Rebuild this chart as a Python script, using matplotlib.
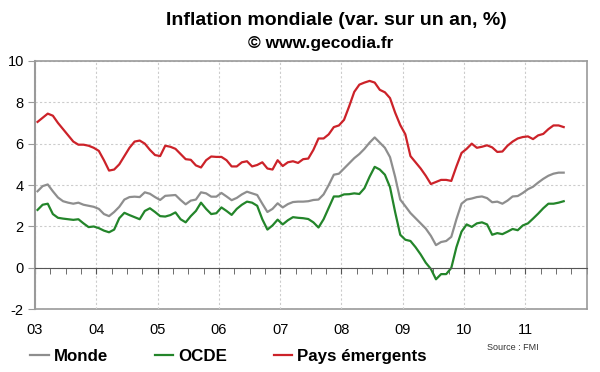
import numpy as np
import matplotlib
matplotlib.use('Agg')
import matplotlib.pyplot as plt
from matplotlib.ticker import MultipleLocator

plt.rcParams['font.family'] = ['Liberation Sans', 'DejaVu Sans']

# monthly values, Jan 2003 -> Aug 2011
monde = [3.7, 3.95, 4.03, 3.7, 3.4, 3.22, 3.15, 3.1, 3.15, 3.05, 3.0, 2.95,
         2.85, 2.6, 2.5, 2.7, 2.95, 3.3, 3.42, 3.44, 3.42, 3.65, 3.58, 3.42,
         3.28, 3.48, 3.5, 3.52, 3.28, 3.07, 3.25, 3.3, 3.65, 3.6, 3.44, 3.44,
         3.62, 3.45, 3.27, 3.38, 3.55, 3.68, 3.6, 3.52, 3.1, 2.7, 2.85, 3.12,
         2.92, 3.08, 3.18, 3.2, 3.2, 3.22, 3.28, 3.3, 3.55, 4.0, 4.5, 4.55,
         4.8, 5.05, 5.3, 5.5, 5.75, 6.05, 6.3, 6.05, 5.8, 5.35, 4.4, 3.3,
         2.98, 2.65, 2.4, 2.15, 1.9, 1.55, 1.1, 1.25, 1.3, 1.5, 2.35, 3.1,
         3.3, 3.35, 3.42, 3.45, 3.37, 3.17, 3.2, 3.1, 3.25, 3.45, 3.47, 3.62,
         3.8, 3.92, 4.12, 4.3, 4.45, 4.55, 4.6, 4.6]
ocde = [2.8, 3.05, 3.1, 2.6, 2.42, 2.38, 2.35, 2.32, 2.35, 2.15, 1.97, 2.0,
        1.92, 1.8, 1.72, 1.85, 2.4, 2.66, 2.55, 2.45, 2.35, 2.75, 2.88, 2.7,
        2.5, 2.48, 2.55, 2.68, 2.35, 2.2, 2.5, 2.75, 3.15, 2.85, 2.6, 2.64,
        2.92, 2.75, 2.56, 2.85, 3.05, 3.2, 3.15, 3.0, 2.35, 1.85, 2.05, 2.33,
        2.1, 2.3, 2.45, 2.42, 2.4, 2.36, 2.2, 1.95, 2.35, 2.9, 3.45, 3.45,
        3.55, 3.56, 3.6, 3.57, 3.85, 4.4, 4.88, 4.75, 4.5, 3.9, 2.7, 1.6,
        1.36, 1.3, 1.0, 0.65, 0.25, -0.05, -0.55, -0.3, -0.3, 0.0, 1.0, 1.75,
        2.1, 1.98, 2.15, 2.2, 2.1, 1.6, 1.68, 1.63, 1.75, 1.88, 1.82, 2.05,
        2.15, 2.38, 2.62, 2.88, 3.1, 3.1, 3.15, 3.22]
emergents = [7.05, 7.25, 7.45, 7.35, 7.0, 6.7, 6.4, 6.1, 5.95, 5.95, 5.9, 5.8,
             5.65, 5.2, 4.7, 4.75, 5.0, 5.4, 5.8, 6.1, 6.15, 6.0, 5.7, 5.45,
             5.4, 5.9, 5.85, 5.75, 5.5, 5.25, 5.22, 4.95, 4.85, 5.2, 5.38, 5.36,
             5.36, 5.2, 4.9, 4.9, 5.1, 5.15, 4.9, 4.97, 5.1, 4.8, 4.75, 5.2,
             4.92, 5.1, 5.15, 5.07, 5.25, 5.28, 5.7, 6.25, 6.25, 6.45, 6.8, 6.88,
             7.15, 7.8, 8.5, 8.85, 8.95, 9.03, 8.95, 8.6, 8.48, 8.2, 7.5, 6.9,
             6.45, 5.4, 5.1, 4.8, 4.45, 4.05, 4.15, 4.25, 4.25, 4.2, 4.9, 5.55,
             5.75, 6.0, 5.8, 5.85, 5.92, 5.82, 5.6, 5.62, 5.9, 6.1, 6.25, 6.32,
             6.35, 6.22, 6.4, 6.47, 6.7, 6.88, 6.88, 6.8]

years = list(range(2003, 2012))
year_labels = ['03', '04', '05', '06', '07', '08', '09', '10', '11']

x = 2003 + (np.arange(len(monde)) + 0.5) / 12

fig = plt.figure(figsize=(6, 3.72), dpi=100)
ax = fig.add_axes([0.0583, 0.1685, 0.9195, 0.668])

ax.plot(x, monde, color='#8e8e8e', lw=1.6, label='Monde')
ax.plot(x, ocde, color='#23852a', lw=1.6, label='OCDE')
ax.plot(x, emergents, color='#cc2229', lw=1.6, label='Pays émergents')

ax.set_xlim(2003, 2012)
ax.set_ylim(-2, 10)

axis_col = '#9a9a9a'
ax.tick_params(axis='y', direction='out', length=5, color=axis_col, labelsize=10.5, pad=3)
ax.set_yticks(range(-2, 11, 2))
ax.set_yticklabels([str(v) for v in range(-2, 11, 2)])

# zero line carries the year/quarter ticks
ax.spines['bottom'].set_position(('data', 0))
ax.spines['bottom'].set_color('#555555')
ax.set_xticks(years)
ax.xaxis.set_minor_locator(MultipleLocator(0.25))
ax.tick_params(axis='x', which='both', direction='out', length=4, color='#555555', labelbottom=False)

for s in ['left', 'top', 'right']:
    ax.spines[s].set_color(axis_col)
    ax.spines[s].set_linewidth(1.2)
ax.spines['left'].set_linewidth(1.5)

# labels along the frame bottom
sec = ax.secondary_xaxis(0.0)
sec.set_xticks(years)
sec.set_xticklabels(year_labels)
sec.tick_params(length=0, labelsize=10.5, pad=10)
sec.spines['bottom'].set_color(axis_col)
sec.spines['bottom'].set_linewidth(1.2)

ax.grid(True, which='major', ls=(0, (2, 2)), color='#cccccc', lw=0.8)
ax.set_axisbelow(True)

fig.text(0.56, 0.945, 'Inflation mondiale (var. sur un an, %)', ha='center', va='center',
         fontsize=14, fontweight='bold')
fig.text(0.535, 0.883, '© www.gecodia.fr', ha='center', va='center',
         fontsize=12.5, fontweight='bold')
fig.text(0.897, 0.065, 'Source : FMI', ha='right', va='center', fontsize=6.5, color='#333333')

fig.legend(loc='center left', bbox_to_anchor=(0.05, 0.042), ncol=3, frameon=False,
           prop={'weight': 'bold', 'size': 12.2}, handlelength=1.1, handletextpad=0.3,
           columnspacing=2.75, borderpad=0, borderaxespad=0)

fig.savefig('out.png', dpi=100)
